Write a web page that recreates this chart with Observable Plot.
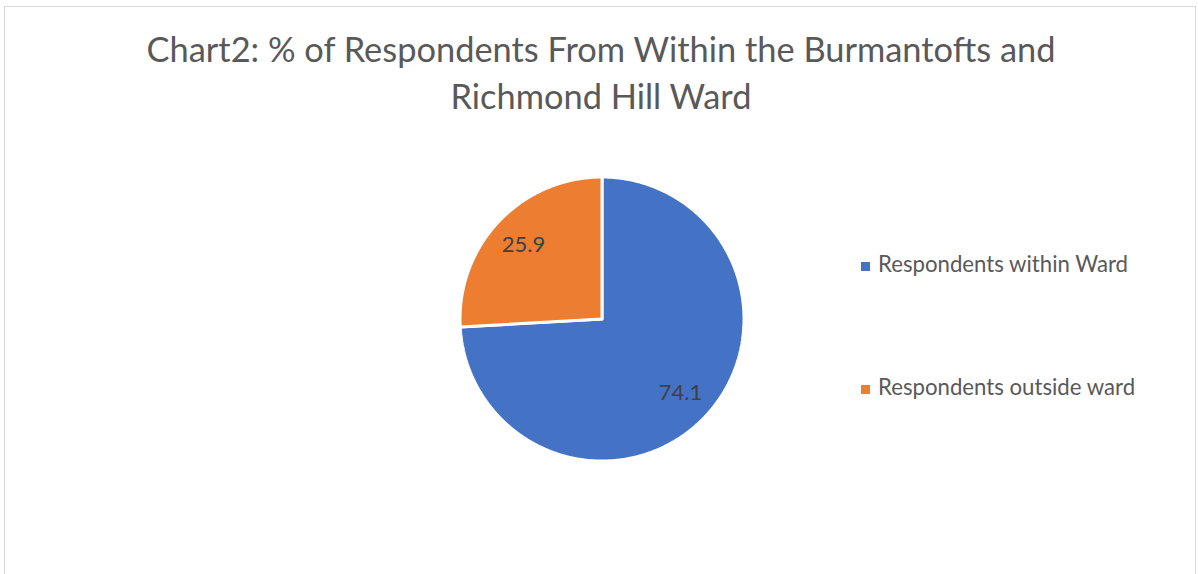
<!DOCTYPE html>
<html>
<head>
<meta charset="utf-8">
<script src="https://cdn.jsdelivr.net/npm/d3@7"></script>
<script src="https://cdn.jsdelivr.net/npm/@observablehq/plot@0.6"></script>
<style>
  html, body { margin: 0; padding: 0; background: #fff; }
  #wrap { position: relative; width: 1198px; height: 574px; overflow: hidden; font-family: Lato, "Open Sans", sans-serif; }
  #frame { position: absolute; left: 4px; top: 6px; width: 1192px; height: 600px; border: 1px solid #d9d9d9; box-sizing: border-box; }
  #title { position: absolute; left: 0; width: 1202px; top: 25px; text-align: center; color: #595959; font-size: 34.4px; line-height: 47px; }
  #chart { position: absolute; left: 0; top: 0; }
  .leg { position: absolute; left: 861px; color: #595959; font-size: 22.2px; line-height: 25px; white-space: nowrap; }
  .leg .sw { display: inline-block; width: 9px; height: 9px; margin-right: 8px; vertical-align: 1px; }
</style>
</head>
<body>
<div id="wrap">
  <div id="frame"></div>
  <div id="chart"></div>
  <div id="title"></div>
  <div id="legend"></div>
</div>
<script>
const titleLines = ["Chart2: % of Respondents From Within the Burmantofts and", "Richmond Hill Ward"];
const categories = ["Respondents within Ward", "Respondents outside ward"];
const values = [74.1, 25.9];
const colors = ["#4472C4", "#ED7D31"];
const labels = ["74.1", "25.9"];

const W = 1198, H = 574;
const cx = 601.5, cy = 318.5, R = 142;

const data = categories.map((c, i) => ({category: c, value: values[i], label: labels[i]}));
const arcs = d3.pie().sort(null).value(d => d.value)(data);

const polys = [];
arcs.forEach(a => {
  polys.push({category: a.data.category, x: 0, y: 0});
  const n = Math.max(2, Math.ceil((a.endAngle - a.startAngle) / (Math.PI / 360)));
  for (let k = 0; k <= n; k++) {
    const t = a.startAngle + (a.endAngle - a.startAngle) * k / n;
    polys.push({category: a.data.category, x: Math.sin(t), y: Math.cos(t)});
  }
  polys.push({category: a.data.category, x: 0, y: 0});
});
const labelPts = arcs.map(a => {
  const m = (a.startAngle + a.endAngle) / 2;
  return {label: a.data.label, x: 0.76 * Math.sin(m), y: 0.76 * Math.cos(m)};
});

const plot = Plot.plot({
  width: W, height: H,
  margin: 0,
  x: {domain: [-cx / R, (W - cx) / R], axis: null},
  y: {domain: [-(H - cy) / R, cy / R], axis: null},
  color: {domain: categories, range: colors},
  style: {fontFamily: "Lato, 'Open Sans', sans-serif", background: "transparent"},
  marks: [
    Plot.line(polys, {x: "x", y: "y", z: "category", fill: "category", stroke: "white", strokeWidth: 3, strokeLinejoin: "miter"}),
    Plot.text(labelPts, {x: "x", y: "y", text: "label", fontSize: 22, fill: "#404040"})
  ]
});
document.getElementById("chart").appendChild(plot);

document.getElementById("title").innerHTML = titleLines.map(t => `<div>${t}</div>`).join("");

const legTops = [251, 374];
const leg = document.getElementById("legend");
categories.forEach((c, i) => {
  const d = document.createElement("div");
  d.className = "leg";
  d.style.top = legTops[i] + "px";
  d.innerHTML = `<span class="sw" style="background:${colors[i]}"></span>${c}`;
  leg.appendChild(d);
});
</script>
</body>
</html>
